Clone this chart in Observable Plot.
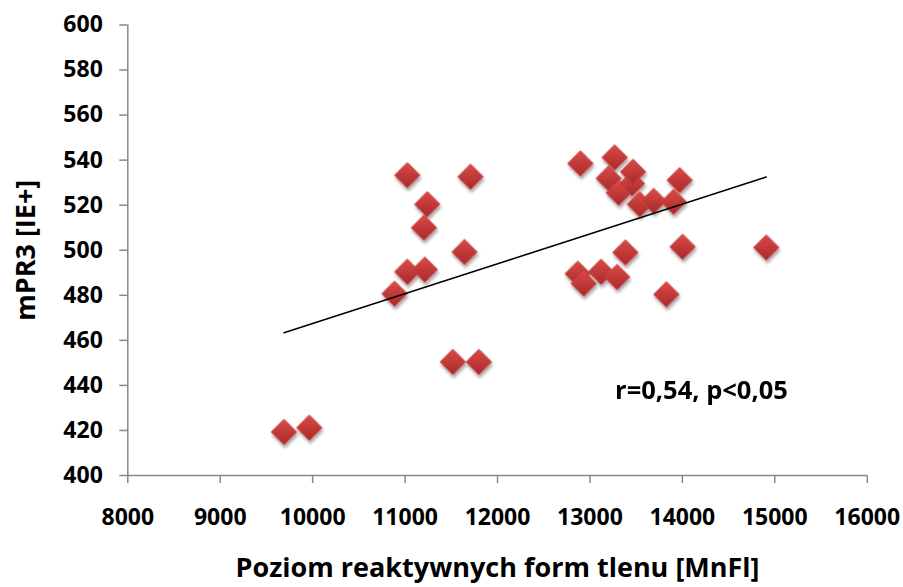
<!DOCTYPE html>
<html>
<head>
<meta charset="utf-8">
<script src="https://cdn.jsdelivr.net/npm/d3@7"></script>
<script src="https://cdn.jsdelivr.net/npm/@observablehq/plot@0.6"></script>
<style>
  html, body { margin: 0; padding: 0; background: #fff; }
  #chart { width: 903px; height: 587px; }
</style>
</head>
<body>
<div id="chart"></div>
<script>
// Data
const rosLevel = [9690, 9964, 10886, 11024, 11024, 11204, 11214, 11240, 11517, 11643, 11708, 11798,
                  12868, 12897, 12933, 13121, 13203, 13268, 13294, 13312, 13384, 13456, 13467, 13539,
                  13690, 13827, 13906, 13971, 14003, 14908];
const mpr3 = [419.3, 421.2, 480.7, 490.4, 533.3, 510.0, 491.4, 520.4, 450.4, 499.2, 532.6, 450.4,
              489.6, 538.5, 485.2, 490.4, 531.9, 541.2, 488.1, 525.5, 499.0, 529.6, 534.8, 520.4,
              521.9, 480.4, 521.5, 531.1, 501.5, 501.2];
const xTicks = [8000, 9000, 10000, 11000, 12000, 13000, 14000, 15000, 16000];
const yTicks = [400, 420, 440, 460, 480, 500, 520, 540, 560, 580, 600];
const xDomain = [8000, 16000];
const yDomain = [400, 600];
const xTitle = "Poziom reaktywnych form tlenu [MnFl]";
const yTitle = "mPR3 [IE+]";
const statText = ["r=0,54, p<0,05"];
const statPos = {x: 14207, y: 437.6};

const data = rosLevel.map((x, i) => ({x, y: mpr3[i]}));

const axisGray = "#898989";

const chart = Plot.plot({
  width: 903,
  height: 587,
  marginLeft: 127.3,
  marginRight: 36.3,
  marginTop: 24.5,
  marginBottom: 112,
  style: {fontFamily: "'Open Sans', sans-serif", background: "#fff", color: "#000"},
  x: {domain: xDomain},
  y: {domain: yDomain},
  marks: [
    Plot.ruleY([yDomain[0]], {stroke: axisGray, strokeWidth: 1.5}),
    Plot.ruleX([xDomain[0]], {stroke: axisGray, strokeWidth: 1.5}),
    Plot.axisX({ticks: xTicks, tickFormat: d => String(d), tickSize: 8, tickPadding: 25,
                stroke: axisGray, strokeWidth: 1.5, fill: "#000", fontSize: 23, fontWeight: "bold", label: null}),
    Plot.axisY({ticks: yTicks, tickFormat: d => String(d), tickSize: 8, tickPadding: 17,
                stroke: axisGray, strokeWidth: 1.5, fill: "#000", fontSize: 23, fontWeight: "bold", label: null}),
    Plot.dot(data, {x: "x", y: "y", symbol: "diamond2", r: 11.5, fill: "url(#dg)", stroke: "#c94846", strokeWidth: 1}),
    Plot.linearRegressionY(data, {x: "x", y: "y", ci: 0, stroke: "#000", strokeWidth: 1.5}),
    Plot.text(statText, {x: statPos.x, y: statPos.y, fontSize: 25.5, fontWeight: "bold", fill: "#000"}),
    Plot.text([xTitle], {frameAnchor: "bottom", dy: 93, lineAnchor: "middle", textAnchor: "middle",
                         fontSize: 27, fontWeight: "bold", fill: "#000"}),
    Plot.text([yTitle], {frameAnchor: "left", dx: -101, rotate: -90, textAnchor: "middle", lineAnchor: "middle",
                         fontSize: 27, fontWeight: "bold", fill: "#000"})
  ]
});

// gradient + drop shadow for diamonds
const svg = d3.select(chart);
const defs = svg.insert("defs", ":first-child");
const grad = defs.append("linearGradient").attr("id", "dg").attr("x1", 0).attr("y1", 0).attr("x2", 0).attr("y2", 1);
grad.append("stop").attr("offset", "0%").attr("stop-color", "#dc4a48");
grad.append("stop").attr("offset", "100%").attr("stop-color", "#a8292a");
const filt = defs.append("filter").attr("id", "ds").attr("x", "-50%").attr("y", "-50%").attr("width", "200%").attr("height", "200%");
filt.append("feDropShadow").attr("dx", 1).attr("dy", 3).attr("stdDeviation", 1.8)
    .attr("flood-color", "#000").attr("flood-opacity", 0.35);
svg.selectAll("g[aria-label='dot']").attr("filter", "url(#ds)");

document.getElementById("chart").appendChild(chart);
</script>
</body>
</html>
